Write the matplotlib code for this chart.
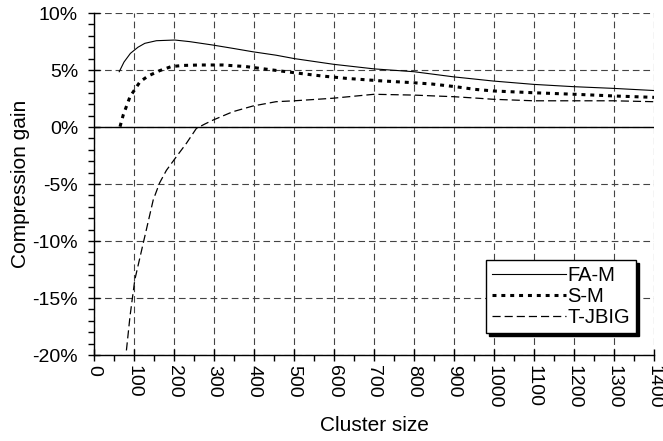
import matplotlib
matplotlib.use("Agg")
import matplotlib.pyplot as plt
from matplotlib.ticker import MultipleLocator, FuncFormatter

plt.rcParams["font.family"] = ["Liberation Sans", "DejaVu Sans"]
plt.rcParams["axes.unicode_minus"] = False

# Données (taille de cluster, gain en %)
fam_x = [63, 75, 91, 110, 127, 156, 202, 239, 297, 347, 397, 455, 501, 599,
         700, 800, 899, 999, 1099, 1198, 1298, 1400]
fam_y = [4.85, 5.7, 6.46, 7.0, 7.34, 7.57, 7.63, 7.49, 7.19, 6.9, 6.6, 6.3,
         6.0, 5.5, 5.1, 4.85, 4.4, 4.03, 3.74, 3.54, 3.39, 3.2]

sm_x = [65, 73, 90, 115, 135, 164, 193, 222, 264, 322, 380, 447, 513, 571,
        630, 712, 796, 845, 903, 953, 999, 1103, 1203, 1302, 1400]
sm_y = [0.03, 1.05, 2.66, 3.97, 4.47, 4.94, 5.3, 5.4, 5.44, 5.44, 5.3, 5.0,
        4.71, 4.47, 4.27, 4.06, 3.89, 3.77, 3.54, 3.3, 3.16, 3.0, 2.87, 2.72, 2.6]

tj_x = [81, 90, 96, 102, 123, 148, 164, 181, 206, 231, 256, 277, 297, 347,
        397, 455, 501, 596, 700, 800, 854, 899, 962, 999, 1099, 1203, 1298, 1400]
tj_y = [-19.6, -16.6, -15.0, -13.4, -10.2, -6.4, -4.9, -3.8, -2.6, -1.43,
        -0.12, 0.26, 0.6, 1.34, 1.84, 2.22, 2.3, 2.52, 2.87, 2.8, 2.72, 2.66,
        2.52, 2.43, 2.3, 2.3, 2.3, 2.22]

labels = ["FA-M", "S-M", "T-JBIG"]

fig = plt.figure(figsize=(6.63, 4.41), dpi=100)
ax = fig.add_axes([0.1418, 0.195, 0.9864 - 0.1418, 0.9705 - 0.195])

ax.set_xlim(0, 1400)
ax.set_ylim(-20, 10)

# Grille pointillée
ax.grid(True, which="major", color="#444444", linestyle=(0, (6, 3.5)), linewidth=0.8)
ax.set_axisbelow(True)
ax.axhline(0, color="black", linewidth=1.0, zorder=2)

ax.plot(fam_x, fam_y, color="black", linewidth=0.8, label=labels[0], zorder=3)
ax.plot(sm_x, sm_y, color="black", linewidth=2.2, linestyle=(0, (1.3, 1.6)),
        label=labels[1], zorder=3)
ax.plot(tj_x, tj_y, color="black", linewidth=0.9, linestyle=(0, (6.5, 3.2)),
        label=labels[2], zorder=3)

ax.xaxis.set_major_locator(MultipleLocator(100))
ax.xaxis.set_minor_locator(MultipleLocator(50))
ax.yaxis.set_major_locator(MultipleLocator(5))
ax.yaxis.set_minor_locator(MultipleLocator(1))
ax.yaxis.set_major_formatter(FuncFormatter(lambda v, p: f"{v:.0f}%"))

ax.tick_params(axis="both", which="major", direction="inout", length=9,
               width=1, labelsize=14, color="black")
ax.tick_params(axis="both", which="minor", direction="out", length=4.5, width=1)
ax.tick_params(axis="x", which="major", labelrotation=-90, pad=3)
ax.tick_params(axis="y", which="major", pad=7)

for s in ["top", "right"]:
    ax.spines[s].set_visible(False)
for s in ["left", "bottom"]:
    ax.spines[s].set_linewidth(1.0)

ax.set_xlabel("Cluster size", fontsize=15, labelpad=5)
ax.set_ylabel("Compression gain", fontsize=15, labelpad=2)

leg = ax.legend(loc="lower right", bbox_to_anchor=(0.968, 0.064),
                borderaxespad=0, fontsize=14.5, handlelength=3.7,
                handletextpad=0.05, labelspacing=0.1, borderpad=0.3,
                fancybox=False, edgecolor="black", framealpha=1,
                shadow={"color": "black", "alpha": 1})
leg.get_frame().set_linewidth(1.0)

fig.savefig("out.png", dpi=100)
